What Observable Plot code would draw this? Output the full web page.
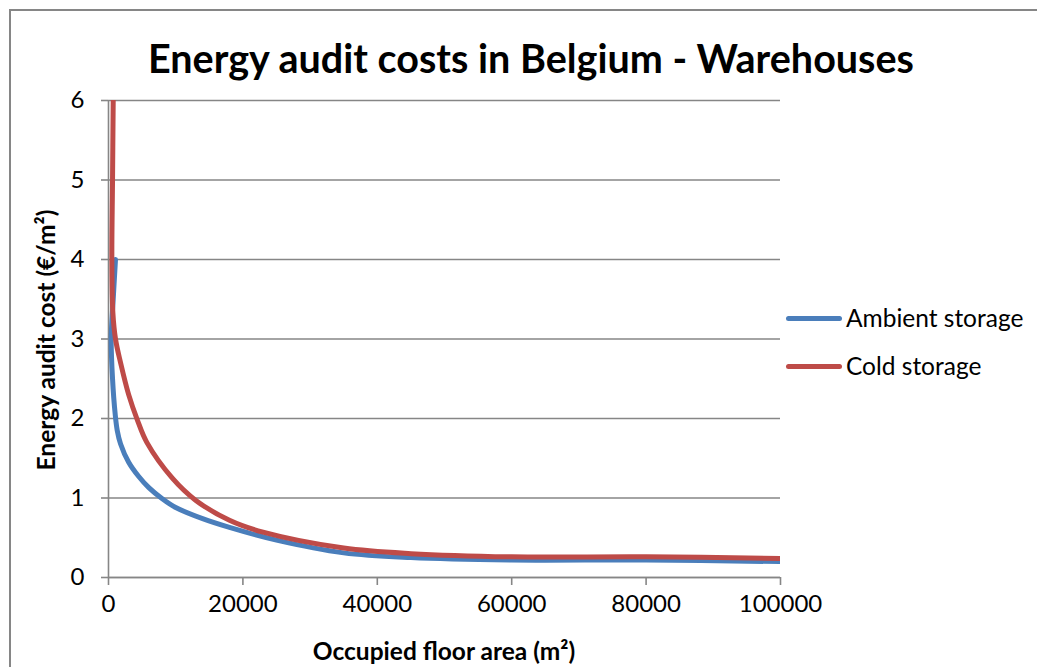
<!DOCTYPE html>
<html>
<head>
<meta charset="utf-8">
<script src="https://cdn.jsdelivr.net/npm/d3@7"></script>
<script src="https://cdn.jsdelivr.net/npm/@observablehq/plot@0.6"></script>
<style>
  html, body { margin: 0; padding: 0; background: #fff; }
  #wrap { position: relative; width: 1037px; height: 667px; overflow: hidden; font-family: Lato, "Open Sans", sans-serif; color: #000; }
  #border { position: absolute; left: 9px; top: 9px; width: 1100px; height: 700px; border-left: 2px solid #868686; border-top: 2px solid #868686; box-sizing: border-box; }
  #chart { position: absolute; left: 0; top: 0; }
  #title { position: absolute; left: 0; width: 1062px; top: 35px; text-align: center; font-weight: bold; font-size: 39.5px; line-height: 46px; }
  #xlabel { position: absolute; left: 0; width: 888px; top: 636px; text-align: center; font-weight: bold; font-size: 24.5px; line-height: 30px; }
  #ylabel { position: absolute; left: 46px; top: 340px; transform: translate(-50%, -50%) rotate(-90deg); white-space: nowrap; font-weight: bold; font-size: 24.5px; line-height: 30px; }
  .leg { position: absolute; left: 786px; font-size: 24.5px; line-height: 30px; display: flex; align-items: center; white-space: nowrap; }
  .sw { width: 56px; height: 5px; border-radius: 3px; margin-right: 4px; }
</style>
</head>
<body>
<div id="wrap">
  <div id="border"></div>
  <div id="chart"></div>
  <div id="title"></div>
  <div id="xlabel"></div>
  <div id="ylabel"></div>
  <div id="legend"></div>
</div>
<script>
const titleText = "Energy audit costs in Belgium - Warehouses";
const xLabel = "Occupied floor area (m²)";
const yLabel = "Energy audit cost (€/m²)";
const seriesNames = ["Ambient storage", "Cold storage"];
const seriesColors = ["#4A7EBB", "#BE4B48"];
const xTicks = [0, 20000, 40000, 60000, 80000, 100000];
const yTicks = [0, 1, 2, 3, 4, 5, 6];

// Ambient storage: area and cost in drawing order
const ambientArea = [1040, 700, 400, 600, 1000, 1300, 1800, 3000, 4500, 6000, 8000, 10000, 14000, 18000, 25000, 35000, 45000, 60000, 80000, 100000];
const ambientCost = [4.0, 3.5, 3.0, 2.5, 2.05, 1.85, 1.68, 1.45, 1.27, 1.13, 0.99, 0.88, 0.74, 0.63, 0.47, 0.31, 0.25, 0.22, 0.22, 0.20];
// Cold storage
const coldArea = [700, 600, 500, 650, 1040, 1800, 3000, 4300, 5700, 9500, 13000, 18000, 23000, 35000, 45000, 60000, 80000, 100000];
const coldCost = [6.0, 5.0, 4.0, 3.33, 3.0, 2.7, 2.3, 1.98, 1.70, 1.25, 0.97, 0.72, 0.57, 0.37, 0.30, 0.26, 0.26, 0.24];

const ambient = ambientArea.map((a, i) => ({area: a, cost: ambientCost[i]}));
const cold = coldArea.map((a, i) => ({area: a, cost: coldCost[i]}));

const gridColor = "#868686";

const plot = Plot.plot({
  width: 1037,
  height: 667,
  marginLeft: 108,
  marginRight: 257,
  marginTop: 100,
  marginBottom: 90,
  style: { fontFamily: "Lato, 'Open Sans', sans-serif", fontSize: "24px", color: "#000", background: "transparent" },
  x: { domain: [0, 100000], ticks: xTicks },
  y: { domain: [0, 6], ticks: yTicks },
  marks: [
    Plot.gridY(yTicks, { stroke: gridColor, strokeOpacity: 1, strokeWidth: 1.6 }),
    Plot.axisY({ ticks: yTicks, tickSize: 7, tickPadding: 17, label: null, tickFormat: d => String(d), stroke: gridColor, strokeWidth: 1.6, fill: "#000" }),
    Plot.axisX({ ticks: xTicks, tickSize: 8, tickPadding: 9, label: null, tickFormat: d => String(d), stroke: gridColor, strokeWidth: 1.6, fill: "#000" }),
    Plot.ruleX([0], { stroke: gridColor, strokeWidth: 1.6 }),
    Plot.ruleY([0], { stroke: gridColor, strokeWidth: 1.6 }),
    Plot.line(ambient, { x: "area", y: "cost", stroke: seriesColors[0], strokeWidth: 5, curve: "catmull-rom", clip: true }),
    Plot.line(cold, { x: "area", y: "cost", stroke: seriesColors[1], strokeWidth: 5, curve: "catmull-rom", clip: true })
  ]
});
document.getElementById("chart").appendChild(plot);

document.getElementById("title").textContent = titleText;
document.getElementById("xlabel").textContent = xLabel;
document.getElementById("ylabel").textContent = yLabel;

const legend = document.getElementById("legend");
const legTops = [303, 351];
seriesNames.forEach((name, i) => {
  const row = document.createElement("div");
  row.className = "leg";
  row.style.top = legTops[i] + "px";
  const sw = document.createElement("div");
  sw.className = "sw";
  sw.style.background = seriesColors[i];
  row.appendChild(sw);
  const t = document.createElement("span");
  t.textContent = name;
  row.appendChild(t);
  legend.appendChild(row);
});
</script>
</body>
</html>
